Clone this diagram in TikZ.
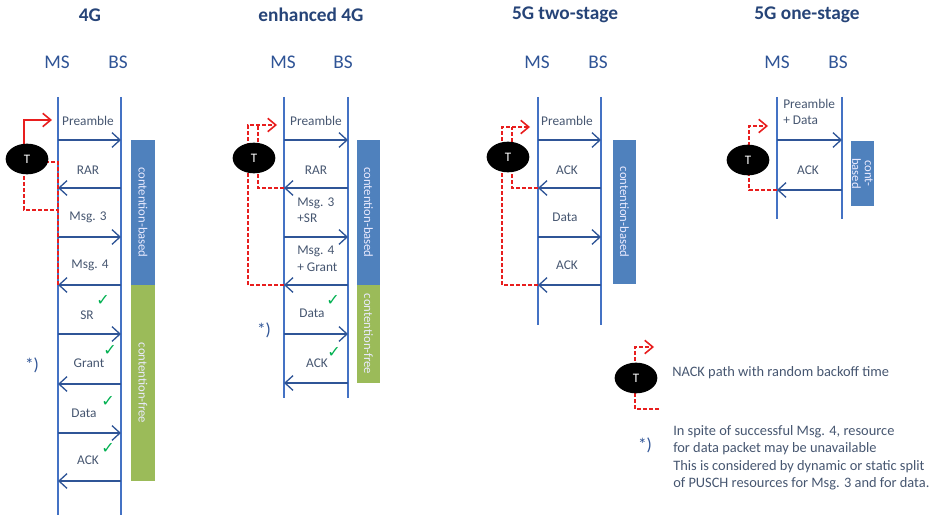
\documentclass[tikz,border=0pt]{standalone}
\usepackage{fontspec}
\setmainfont{Carlito}
\newfontfamily\symfont{DejaVu Sans}
\usetikzlibrary{arrows.meta,shapes.geometric}
\definecolor{ttlc}{RGB}{38,68,120}
\definecolor{msc}{RGB}{47,84,150}
\definecolor{lblc}{RGB}{70,86,112}
\definecolor{lifec}{RGB}{68,114,196}
\definecolor{arrc}{RGB}{47,85,151}
\definecolor{barb}{RGB}{79,129,189}
\definecolor{barg}{RGB}{155,187,89}
\definecolor{chkc}{RGB}{0,176,80}
\definecolor{redc}{RGB}{232,30,30}
\begin{document}
\begin{tikzpicture}[x=0.75pt,y=-0.75pt,
  ttl/.style={text=ttlc,font=\bfseries\fontsize{14.5}{17}\selectfont,inner sep=0pt},
  ent/.style={text=msc,font=\fontsize{14.5}{17}\selectfont,inner sep=0pt},
  life/.style={draw=lifec,line width=1.5pt},
  msg/.style={draw=arrc,line width=1pt,-{Straight Barb[length=6pt,width=11pt,line width=1pt]}},
  lbl/.style={text=lblc,font=\fontsize{10}{11.5}\selectfont,inner sep=0pt},
  lbll/.style={lbl,anchor=west},
  chk/.style={text=chkc,font=\symfont\fontsize{12}{12}\selectfont,inner sep=0pt},
  bar/.style={rotate=-90,text=white!92!blue,font=\fontsize{9.5}{10.5}\selectfont,inner sep=0pt,align=center},
  tnode/.style={ellipse,fill=black,minimum width=32pt,minimum height=23pt,inner sep=0pt,text=white,font=\fontsize{9.75}{11}\selectfont},
  nack/.style={draw=redc,line width=1.3pt,dash pattern=on 3pt off 1.5pt},
  nackar/.style={nack,-{Straight Barb[length=6pt,width=10pt,line width=1.2pt]}},
  star/.style={text=msc,font=\fontsize{13}{15}\selectfont,inner sep=0pt},
  note/.style={text=lblc,font=\fontsize{10.8}{13}\selectfont,inner sep=0pt,anchor=west}]
\useasboundingbox (0,0) rectangle (931,520);

% titles and entity labels
\node[ttl] (t1) at (90,15) {4G};
\node[ttl] (t2) at (311,15) {enhanced 4G};
\node[ttl] (t3) at (565,15) {5G two-stage};
\node[ttl] (t4) at (807,15) {5G one-stage};
\node[ent] (ms1) at (57,62) {MS};  \node[ent] (bs1) at (118,62) {BS};
\node[ent] (ms2) at (283,62) {MS}; \node[ent] (bs2) at (343,62) {BS};
\node[ent] (ms3) at (537,62) {MS}; \node[ent] (bs3) at (598,62) {BS};
\node[ent] (ms4) at (777,62) {MS}; \node[ent] (bs4) at (838,62) {BS};

% bars
\node[bar,fill=barb,minimum width=108.75pt,minimum height=18pt] (b1) at (143,212.5) {contention-based};
\node[bar,fill=barg,minimum width=147pt,minimum height=18pt] (g1) at (143,383) {contention-free};
\node[bar,fill=barb,minimum width=108.75pt,minimum height=17.25pt] (b2) at (368.5,212.5) {contention-based};
\node[bar,fill=barg,minimum width=73.5pt,minimum height=17.25pt] (g2) at (368.5,334) {contention-free};
\node[bar,fill=barb,minimum width=108pt,minimum height=17.25pt] (b3) at (624.5,212) {contention-based};
\node[bar,fill=barb,minimum width=48.75pt,minimum height=17.25pt,font=\fontsize{9.5}{9.5}\selectfont] (b4) at (862.5,173.5) {cont-\\based};

% lifelines
\coordinate (m1t) at (58,97);  \coordinate (m1b) at (58,515);
\coordinate (s1t) at (121,97); \coordinate (s1b) at (121,515);
\coordinate (m2t) at (284,97); \coordinate (m2b) at (284,398);
\coordinate (s2t) at (348,97); \coordinate (s2b) at (348,398);
\coordinate (m3t) at (538,97); \coordinate (m3b) at (538,325);
\coordinate (s3t) at (601,97); \coordinate (s3b) at (601,325);
\coordinate (m4t) at (777,97); \coordinate (m4b) at (777,219);
\coordinate (s4t) at (842,97); \coordinate (s4b) at (842,219);
\foreach \c in {1,2,3,4} {\draw[life] (m\c t) -- (m\c b); \draw[life] (s\c t) -- (s\c b);}

% arrow end points
\foreach \y [count=\i] in {140,188,237,285,334,384,433,481} {\coordinate (L1-\i) at (58,\y); \coordinate (R1-\i) at (121,\y);}
\foreach \y [count=\i] in {140,188,237,285,334,383} {\coordinate (L2-\i) at (284,\y); \coordinate (R2-\i) at (348,\y);}
\foreach \y [count=\i] in {140,188,237,285} {\coordinate (L3-\i) at (538,\y); \coordinate (R3-\i) at (601,\y);}
\foreach \y [count=\i] in {140,190} {\coordinate (L4-\i) at (777,\y); \coordinate (R4-\i) at (842,\y);}

% messages
\draw[msg] (L1-1) -- (R1-1); \draw[msg] (R1-2) -- (L1-2);
\draw[msg] (L1-3) -- (R1-3); \draw[msg] (R1-4) -- (L1-4);
\draw[msg] (L1-5) -- (R1-5); \draw[msg] (R1-6) -- (L1-6);
\draw[msg] (L1-7) -- (R1-7); \draw[msg] (R1-8) -- (L1-8);
\draw[msg] (L2-1) -- (R2-1); \draw[msg] (R2-2) -- (L2-2);
\draw[msg] (L2-3) -- (R2-3); \draw[msg] (R2-4) -- (L2-4);
\draw[msg] (L2-5) -- (R2-5); \draw[msg] (R2-6) -- (L2-6);
\draw[msg] (L3-1) -- (R3-1); \draw[msg] (R3-2) -- (L3-2);
\draw[msg] (L3-3) -- (R3-3); \draw[msg] (R3-4) -- (L3-4);
\draw[msg] (L4-1) -- (R4-1); \draw[msg] (R4-2) -- (L4-2);

% labels column 1
\node[lbl] (a1) at (88,121) {Preamble};
\node[lbl] (a2) at (88,170) {RAR};
\node[lbl] (a3) at (88,217) {Msg. 3};
\node[lbl] (a4) at (90,265) {Msg. 4};
\node[lbl] (a5) at (87,315) {SR};
\node[lbl] (a6) at (89,363) {Grant};
\node[lbl] (a7) at (84,413) {Data};
\node[lbl] (a8) at (88,460) {ACK};
\node[chk] (k1) at (103,300) {✓};
\node[chk] (k2) at (110,350) {✓};
\node[chk] (k3) at (108,401) {✓};
\node[chk] (k4) at (108,448) {✓};
\node[star] (st1) at (32,365) {*)};

% labels column 2
\node[lbl] (e1) at (316,121) {Preamble};
\node[lbl] (e2) at (316,170) {RAR};
\node[lbll] (e3) at (297,203) {Msg. 3};
\node[lbll] (e3b) at (297,218) {+SR};
\node[lbll] (e4) at (297,251) {Msg. 4};
\node[lbll] (e4b) at (297,267) {+ Grant};
\node[lbl] (e5) at (312,313) {Data};
\node[lbl] (e6) at (317,363) {ACK};
\node[chk] (k5) at (333,300) {✓};
\node[chk] (k6) at (334,352) {✓};
\node[star] (st2) at (264,330) {*)};

% labels column 3
\node[lbl] (f1) at (567,121) {Preamble};
\node[lbl] (f2) at (567,170) {ACK};
\node[lbl] (f3) at (565,217) {Data};
\node[lbl] (f4) at (567,265) {ACK};

% labels column 4
\node[lbll] (h1) at (783,104) {Preamble};
\node[lbll] (h1b) at (783,120) {+ Data};
\node[lbl] (h2) at (808,170) {ACK};

% NACK paths column 1
\coordinate (p1a) at (24,160); \coordinate (p1b) at (24,120); \coordinate (p1c) at (52,120);
\draw[draw=redc,line width=1.2pt,-{Straight Barb[length=6pt,width=10pt,line width=1.2pt]}] (p1a) -- (p1b) -- (p1c);
\coordinate (q1a) at (24,170); \coordinate (q1b) at (24,210);
\draw[nack] (q1a) -- (q1b) -- (L1-3 |- q1b);
\coordinate (q1c) at (58,162);
\draw[nack] (L1-4) -- (q1c) -- (30,162);
\node[tnode] (T1) at (27,159) {T};

% column 2
\coordinate (p2o) at (248,125); \coordinate (p2i) at (258,125); \coordinate (p2e) at (277,125);
\draw[nackar] (L2-4) -| (p2o) -- (p2e);
\draw[nack] (L2-2) -| (p2i);
\node[tnode] (T2) at (254,158) {T};

% column 3
\coordinate (p3o) at (502,127); \coordinate (p3i) at (512,127); \coordinate (p3e) at (530,127);
\draw[nackar] (L3-4) -| (p3o) -- (p3e);
\draw[nack] (L3-2) -| (p3i);
\node[tnode] (T3) at (508,157) {T};

% column 4
\coordinate (p4o) at (749,126); \coordinate (p4e) at (768,126);
\draw[nackar] (L4-2) -| (p4o) -- (p4e);
\node[tnode] (T4) at (748,160) {T};

% legend
\coordinate (lg1) at (659,409); \coordinate (lg2) at (635,347); \coordinate (lg3) at (654,347);
\draw[nackar] (lg1) -| (lg2) -- (lg3);
\node[tnode] (T5) at (636,378) {T};
\node[note] (n1) at (672,373) {NACK path with random backoff time};
\node[star] (st3) at (645,445) {*)};
\node[note] (n2) at (673,432) {In spite of successful Msg. 4, resource};
\node[note] (n3) at (673,449) {for data packet may be unavailable};
\node[note] (n4) at (673,467) {This is considered by dynamic or static split};
\node[note] (n5) at (673,484) {of PUSCH resources for Msg. 3 and for data.};
\end{tikzpicture}
\end{document}
